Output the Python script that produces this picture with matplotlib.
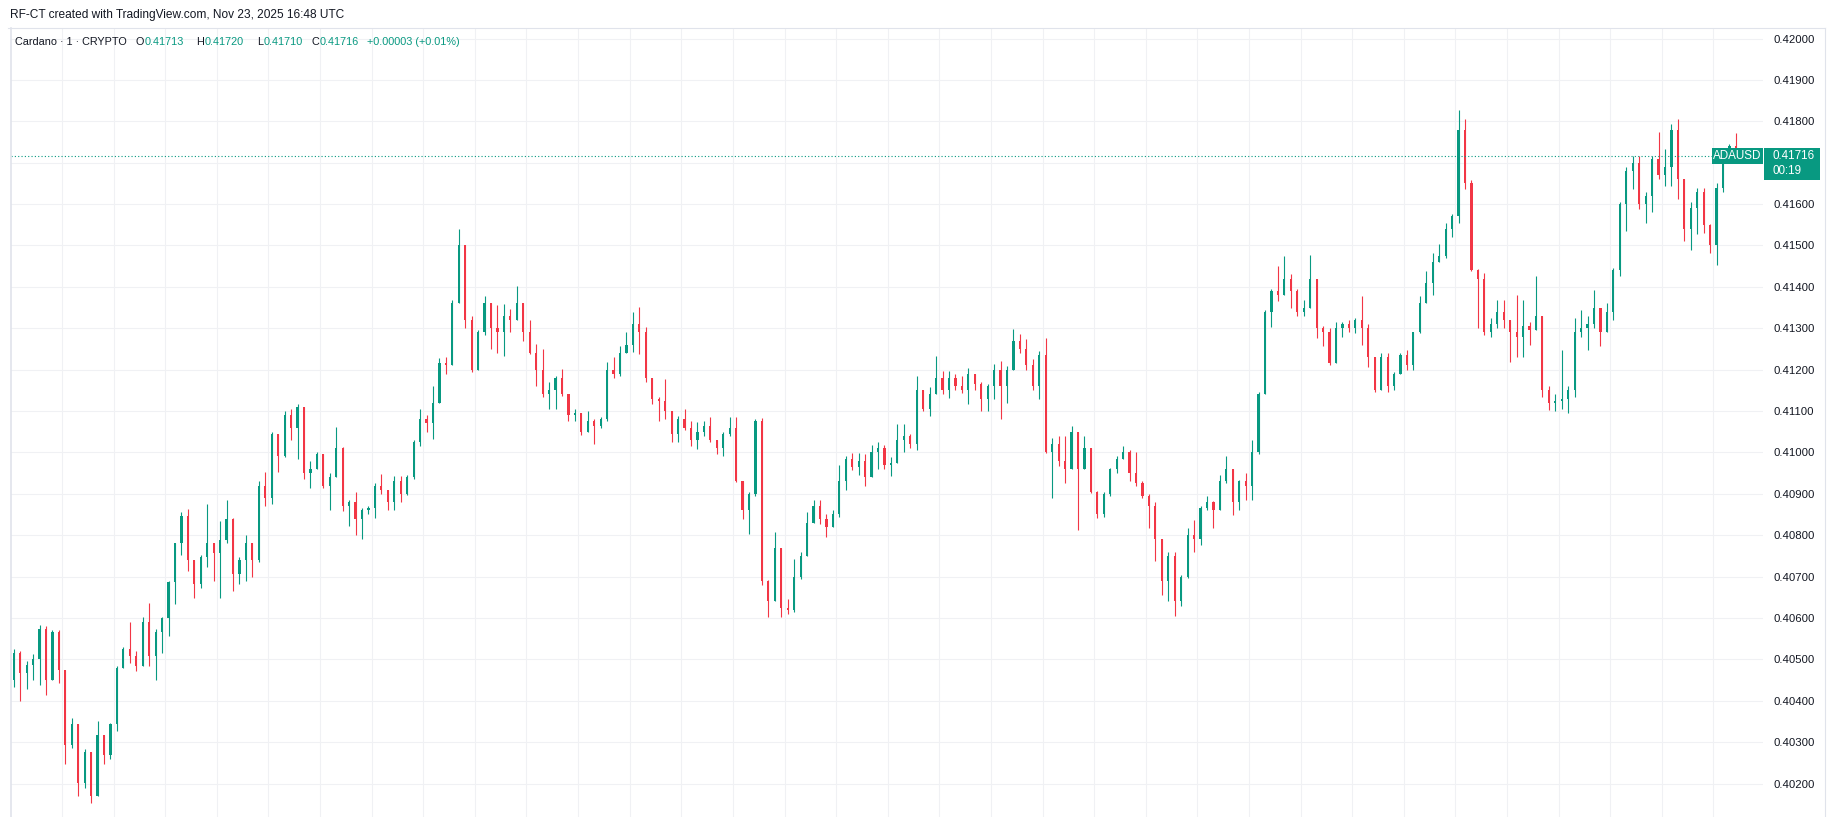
import numpy as np
import matplotlib
matplotlib.use('Agg')
import matplotlib.pyplot as plt
from matplotlib.patches import Rectangle
from matplotlib.lines import Line2D
from matplotlib.ticker import FormatStrFormatter

plt.rcParams['font.family'] = ['Liberation Sans', 'DejaVu Sans']

# prices in units of 0.00001 above 0.40000, one candle per ~2.5 minutes
first_open = 450
closes = [
    516, 467, 487, 500, 574, 450, 566, 475,
    293, 343, 202, 277, 169, 318, 268, 343,
    479, 526, 508, 483, 590, 508, 566, 599,
    686, 780, 847, 739, 681, 748, 780, 756,
    789, 838, 706, 739, 780, 740, 920, 890,
    1045, 992, 1090, 1060, 1110, 950, 960, 995,
    920, 940, 1010, 870, 880, 840, 860, 865,
    920, 910, 880, 930, 900, 940, 1025, 1080,
    1070, 1120, 1215, 1210, 1360, 1500, 1320, 1200,
    1290, 1360, 1300, 1290, 1330, 1320, 1360, 1290,
    1240, 1200, 1140, 1150, 1180, 1140, 1090, 1095,
    1050, 1075, 1065, 1080, 1200, 1190, 1240, 1260,
    1310, 1290, 1180, 1130, 1125, 1100, 1045, 1080,
    1060, 1030, 1050, 1065, 1030, 1010, 1045, 1060,
    930, 860, 900, 1075, 690, 640, 770, 625,
    620, 700, 750, 830, 870, 840, 820, 850,
    930, 985, 965, 980, 940, 1000, 1010, 970,
    975, 1030, 1040, 1020, 1150, 1105, 1140, 1180,
    1150, 1180, 1160, 1150, 1190, 1165, 1130, 1160,
    1200, 1160, 1200, 1270, 1250, 1210, 1160, 1235,
    1000, 1020, 980, 960, 1050, 960, 1010, 905,
    850, 900, 960, 985, 1000, 950, 925, 895,
    870, 790, 690, 750, 640, 700, 800, 790,
    865, 880, 860, 930, 960, 880, 930, 920,
    1000, 1140, 1340, 1390, 1380, 1420, 1390, 1340,
    1350, 1420, 1300, 1290, 1215, 1300, 1310, 1300,
    1320, 1300, 1230, 1150, 1230, 1160, 1190, 1235,
    1210, 1290, 1360, 1410, 1460, 1475, 1540, 1570,
    1780, 1650, 1440, 1420, 1290, 1310, 1340, 1320,
    1290, 1280, 1305, 1295, 1330, 1150, 1120, 1125,
    1130, 1150, 1290, 1300, 1310, 1350, 1290, 1340,
    1440, 1600, 1680, 1700, 1600, 1620, 1710, 1670,
    1690, 1780, 1660, 1540, 1590, 1630, 1550, 1500,
    1640, 1715, 1740, 1716,
]
highs = [
    526, 520, 496, 512, 582, 580, 570, 570,
    475, 359, 318, 283, 252, 351, 318, 347,
    483, 529, 590, 520, 603, 636, 574, 603,
    690, 780, 855, 863, 719, 752, 875, 780,
    834, 884, 842, 748, 801, 780, 931, 952,
    1049, 1045, 1101, 1105, 1118, 1110, 980, 1000,
    995, 950, 1061, 1012, 885, 905, 866, 870,
    925, 948, 900, 944, 944, 945, 1030, 1106,
    1090, 1160, 1227, 1230, 1369, 1539, 1470, 1330,
    1295, 1378, 1340, 1357, 1359, 1347, 1403, 1359,
    1319, 1262, 1250, 1170, 1184, 1202, 1137, 1105,
    1093, 1101, 1080, 1085, 1218, 1230, 1258, 1290,
    1339, 1351, 1303, 1175, 1135, 1177, 1085, 1089,
    1105, 1077, 1073, 1077, 1085, 1030, 1050, 1085,
    1085, 932, 904, 1081, 1084, 691, 808, 770,
    647, 743, 760, 857, 885, 885, 850, 860,
    970, 991, 999, 999, 995, 1019, 1025, 1019,
    990, 1068, 1068, 1045, 1185, 1150, 1157, 1234,
    1197, 1197, 1190, 1185, 1205, 1170, 1170, 1165,
    1214, 1221, 1208, 1297, 1285, 1273, 1225, 1244,
    1277, 1035, 1039, 1039, 1063, 1027, 1040, 1010,
    906, 905, 962, 991, 1015, 1005, 1000, 930,
    900, 880, 790, 760, 760, 704, 817, 837,
    870, 894, 882, 946, 991, 960, 934, 950,
    1031, 1146, 1345, 1394, 1450, 1474, 1430, 1395,
    1369, 1478, 1420, 1305, 1300, 1316, 1316, 1320,
    1324, 1377, 1310, 1215, 1240, 1240, 1195, 1240,
    1248, 1290, 1377, 1438, 1482, 1503, 1555, 1576,
    1827, 1806, 1657, 1442, 1434, 1324, 1369, 1369,
    1312, 1381, 1369, 1316, 1426, 1330, 1160, 1140,
    1248, 1160, 1324, 1345, 1329, 1393, 1345, 1361,
    1446, 1604, 1689, 1717, 1717, 1628, 1717, 1774,
    1734, 1794, 1806, 1596, 1604, 1640, 1640, 1551,
    1650, 1719, 1745, 1772,
]
lows = [
    433, 400, 429, 450, 438, 413, 458, 442,
    248, 285, 169, 190, 153, 169, 248, 260,
    326, 479, 491, 471, 491, 483, 450, 516,
    557, 633, 752, 714, 648, 673, 723, 690,
    648, 780, 665, 681, 690, 700, 735, 871,
    875, 952, 990, 1030, 984, 935, 915, 960,
    915, 862, 950, 858, 822, 800, 790, 850,
    842, 900, 860, 862, 880, 896, 935, 1015,
    1050, 1033, 1160, 1190, 1223, 1365, 1300, 1195,
    1199, 1284, 1251, 1239, 1234, 1290, 1320, 1270,
    1238, 1161, 1133, 1105, 1105, 1137, 1077, 1077,
    1041, 1060, 1020, 1060, 1077, 1180, 1185, 1240,
    1242, 1238, 1170, 1117, 1077, 1081, 1024, 1024,
    1055, 1016, 1008, 1040, 1024, 996, 992, 1040,
    928, 839, 803, 895, 679, 602, 640, 602,
    610, 614, 695, 760, 829, 828, 796, 830,
    845, 910, 958, 946, 918, 962, 960, 960,
    942, 975, 1000, 1010, 1007, 1100, 1088, 1150,
    1140, 1132, 1150, 1143, 1116, 1150, 1100, 1100,
    1128, 1080, 1120, 1200, 1240, 1200, 1150, 1128,
    999, 890, 966, 926, 990, 813, 966, 902,
    842, 845, 894, 950, 985, 931, 920, 890,
    817, 737, 656, 640, 604, 630, 697, 760,
    777, 860, 817, 866, 926, 849, 862, 886,
    886, 995, 1140, 1304, 1365, 1380, 1349, 1329,
    1330, 1350, 1276, 1256, 1211, 1215, 1280, 1290,
    1288, 1260, 1207, 1146, 1150, 1146, 1150, 1190,
    1200, 1200, 1288, 1360, 1381, 1465, 1470, 1520,
    1555, 1636, 1438, 1300, 1284, 1280, 1300, 1300,
    1219, 1231, 1231, 1260, 1312, 1134, 1102, 1100,
    1106, 1094, 1134, 1280, 1248, 1300, 1256, 1290,
    1320, 1426, 1535, 1636, 1588, 1555, 1580, 1661,
    1644, 1644, 1612, 1511, 1490, 1527, 1531, 1482,
    1453, 1630, 1700, 1710,
]
price_ticks = [0.402, 0.403, 0.404, 0.405, 0.406, 0.407, 0.408, 0.409, 0.410,
               0.411, 0.412, 0.413, 0.414, 0.415, 0.416, 0.417, 0.418, 0.419, 0.420]
hidden_tick = 0.417  # sits under the last-price tag

header = "RF-CT created with TradingView.com, Nov 23, 2025 16:48 UTC"
legend_parts = [("Cardano · 1 · CRYPTO", 15, 'dark'), ("O", 136, 'dark'), ("0.41713", 145, 'up'),
                ("H", 196, 'dark'), ("0.41720", 204.5, 'up'), ("L", 257, 'dark'),
                ("0.41710", 263.5, 'up'), ("C", 311, 'dark'), ("0.41716", 319.5, 'up'),
                ("+0.00003 (+0.01%)", 367, 'up')]
last_price = "0.41716"
countdown = "00:19"

UP = '#089981'
DN = '#f23645'
DOJI = '#5d606b'
DARK = '#131722'
GRID = '#f0f1f4'
BORDER = '#e0e3eb'

W, H = 1835, 817


def fx(x):
    return x / W


def fy(y):
    return 1 - y / H


c = 0.4 + np.array(closes) / 1e5
o = np.concatenate([[0.4 + first_open / 1e5], c[:-1]])
hi = np.maximum(0.4 + np.array(highs) / 1e5, np.maximum(o, c))
lo = np.minimum(0.4 + np.array(lows) / 1e5, np.minimum(o, c))
x = np.arange(len(c))
cols = np.where(c > o, UP, np.where(c < o, DN, DOJI))

fig = plt.figure(figsize=(W / 100, H / 100), dpi=100)
fig.patch.set_facecolor('white')
ax = fig.add_axes([fx(11), 0, fx(1763 - 11), (H - 28) / H])

ax.vlines(x, lo, hi, colors=cols, linewidth=0.8, zorder=3)
ax.bar(x, np.maximum(np.abs(c - o), 0.000012), bottom=np.minimum(o, c), width=0.34,
       color=cols, linewidth=0, zorder=3)

ax.axhline(c[-1], color=UP, linestyle=(0, (1, 2)), linewidth=0.8, zorder=4)

ax.set_xlim(-0.419, 271.2)
ax.set_ylim(0.401191, 0.420254)
ax.set_xticks(np.arange(1, 34) * 8 - 0.5)
ax.set_yticks(price_ticks)
ax.set_yticklabels(['' if abs(t - hidden_tick) < 1e-9 else '%.5f' % t for t in price_ticks])
ax.yaxis.tick_right()
ax.tick_params(axis='x', length=0, labelbottom=False)
ax.tick_params(axis='y', length=0, pad=7.5, labelsize=8.2, labelcolor=DARK)
ax.grid(True, color=GRID, linewidth=0.8, zorder=0)
ax.set_axisbelow(True)
for s in ax.spines.values():
    s.set_visible(False)

# frame lines
fig.add_artist(Line2D([fx(8), fx(1825)], [fy(28), fy(28)], color=BORDER, linewidth=0.8))
fig.add_artist(Line2D([fx(10.5), fx(10.5)], [fy(28), 0], color=BORDER, linewidth=1.2))
fig.add_artist(Line2D([fx(1825), fx(1825)], [fy(28), 0], color=BORDER, linewidth=0.8))

# header texts
fig.text(fx(10), fy(15), header, fontsize=8.6, color=DARK, va='center')
for txt, px, kind in legend_parts:
    fig.text(fx(px), fy(42), txt, fontsize=7.8, color=UP if kind == 'up' else DARK, va='center')

# last price tags
fig.add_artist(Rectangle((fx(1712), fy(164)), fx(51), 16 / H, facecolor=UP, edgecolor='none'))
fig.text(fx(1737.5), fy(156), "ADAUSD", fontsize=8.4, color='white', ha='center', va='center')
fig.add_artist(Rectangle((fx(1764), fy(180)), fx(56), 32 / H, facecolor=UP, edgecolor='none'))
fig.text(fx(1772), fy(156), last_price, fontsize=8.4, color='white', va='center')
fig.text(fx(1772), fy(171), countdown, fontsize=8.4, color='white', va='center')

fig.savefig('out.png', dpi=100)
